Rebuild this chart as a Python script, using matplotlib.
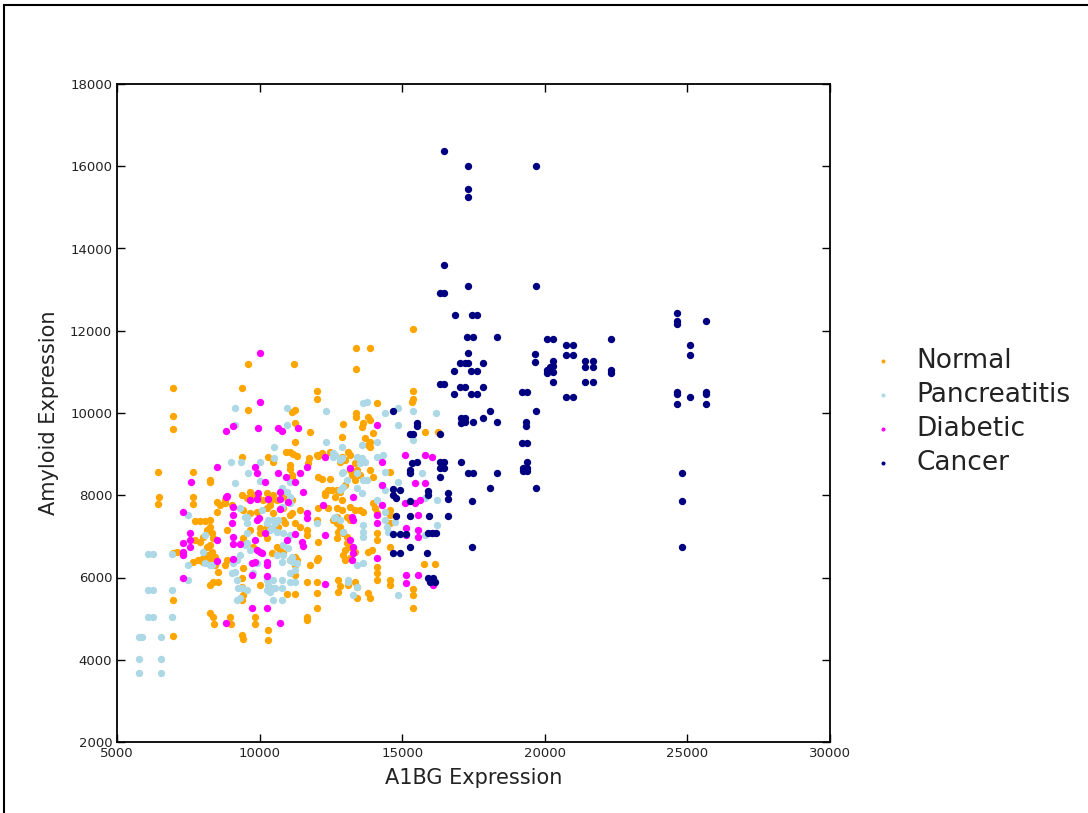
import numpy as np
import matplotlib
matplotlib.use("Agg")
import matplotlib.pyplot as plt
from matplotlib.patches import Rectangle

# ---- data (A1BG expression, Amyloid expression) ---------------------------
normal_pts = [
    (6960,10610),(6960,9930),(6960,9610),(9590,11190),(9380,10610),(9590,10070),(11210,11190),
    (13380,11580),(13380,11070),(12010,10540),(12010,10340),(11140,10030),(11240,10070),(11240,9760),
    (11770,9540),(13380,10000),(13380,9900),(12920,9730),(11240,9300),(10930,9050),(11070,9050),
    (11170,9000),(11310,8960),(11730,8910),(12010,8980),(10290,8930),(9380,8930),(6440,8570),
    (7670,8570),(8260,8370),(11070,8740),(11070,8640),(12050,8450),(12190,8400),(12470,8400),
    (12290,8060),(6470,7960),(7670,7960),(12470,9050),(12820,8810),(12990,8860),(13170,8620),
    (13240,8490),(12990,8250),(13340,8370),
    (6440,7790),(7670,7790),(7740,7380),(7910,7380),(8090,7380),(6960,6600),(6960,5450),(6960,4580),
    (8260,5820),(8260,5140),(8370,5040),(8400,4870),(8540,5890),(8960,5040),(9000,4870),(9380,4600),
    (9420,4510),(9840,5040),(9840,4870),(10290,4480),(11660,5040),(11660,4970),(12010,5260),
    (12010,5620),(12010,5890),(11240,5600),(10960,5600),(11660,5890),(12750,5940),(12820,5790),
    (12750,5650),(13100,5820),(13420,5770),
    (8260,8320),(8260,7400),(8260,7230),(8330,7080),(8510,7590),(8610,7760),(8790,7810),(8160,7160),
    (8370,6960),(8860,7160),(7740,6910),(7910,6860),(8260,6790),(8330,6620),(8440,6500),(8190,6550),
    (7670,6380),(7840,6430),(8020,6380),(8260,6430),(8440,6300),(8790,6300),(8860,6430),(8540,6130),
    (8370,5890),(7100,6620),
    (9380,8010),(9560,7930),(9660,8080),(9770,8010),(9940,7960),(10120,7890),(10260,8060),(10470,8010),
    (10610,7890),(10820,8060),(10960,7930),(11140,7890),(9420,7640),(9660,7570),(9910,7590),
    (10260,7690),(10470,7570),(10820,7690),(11140,7570),(9660,7160),(10010,7200),(10260,7230),
    (10650,7230),(9420,5580),(11240,7330),(11420,7230),(11660,7160),(11660,7030),(12050,6860),
    (12010,6430),(11770,6300),(11240,6300),(10820,6600),(11070,6430),
    (12710,7330),(12820,7230),(12920,7110),(13060,6990),(13170,6740),(13340,6620),(12920,6550),
    (13170,6480),(12990,6430),
    (8020,6990),(8160,6740),(8020,6480),(9420,6230),(9380,5990),(9380,5770),(9380,5450),(9420,6960),
    (9770,6740),(10010,7080),(10260,6960),(10610,6740),(10720,6670),(10430,6600),(11240,6500),
    (11310,6430),(12050,6480),(11240,6060),(10010,5820),(10290,4720),
    (10470,8810),(11140,8490),(11140,8420),(11700,8790),(12050,8960),(12190,9030),(12540,9030),
    (8790,7890),(8510,7840),(9030,7760),(10400,7890),(10360,7760),(12400,8130),(12290,8010),
    (12050,7690),(12400,7690),(12710,7470),(12570,7400),(12540,8130),(10820,7400),(10890,7330),
    (11070,7520),(11420,7640),(12010,7400),
    (14120,10240),(13800,9900),(13870,9830),(13630,9760),(13590,9660),(13980,9520),(12890,9420),
    (13700,9390),(13870,9300),(13800,9220),(13870,9170),(13100,9050),(13170,8980),(13340,8790),
    (13420,8620),(13520,8490),(13870,8620),(13980,8450),(14570,8570),(12710,8130),(12820,8080),
    (12640,7960),(12890,7890),(12710,7690),(12890,7640),(13170,7720),(13340,7640),(13060,7470),
    (13170,7400),(13520,7640),(13630,7590),(13980,7810),(14050,7690),(14120,7570),(14570,7640),
    (14570,7520),(14570,7330),(12750,7110),(12920,7080),(12710,6960),(13060,6840),(12990,6670),
    (13800,6620),(13940,6670),(14120,7080),(14120,6910),(14570,6740),(14120,6260),(14120,6110),
    (14120,5940),(13340,5890),(14570,5940),(14570,5820),(13800,5620),(15380,5720),(15380,5580),
    (15760,6330),(16150,6330),(15340,10270),(15800,9540),(16250,9540),
    (15380,12040),(13870,11580),(15380,10540),(15380,10340),(15380,5260),(13420,5500),(13870,5500),
    (12890,8930),
]

pancreatitis_pts = [
    (9140,10120),(9140,9710),(10960,10120),(10960,9710),(12330,10050),(12330,9300),(10500,9170),
    (10500,8910),(9000,8810),(9350,8810),(10010,8810),(9590,8540),(9140,8300),(10010,8350),
    (12890,9170),(12890,8910),(13420,8930),(12570,8930),(12890,8540),(11070,8320),(13420,8540),
    (6090,6570),(6260,6570),(6930,6570),(6090,5700),(6260,5700),(6930,5700),(6090,5040),(6260,5040),
    (6930,5040),(5770,4550),(5880,4550),(6540,4550),(5770,4020),(6540,4020),(5770,3680),(6540,3680),
    (7490,7520),(7490,6300),(7490,5940),(8020,6620),(8260,6300),(9560,7470),(9560,7330),(9560,7080),
    (9560,6840),(9660,6670),(9210,6430),(9140,6130),(9210,5940),(9380,5750),(9240,5750),(9210,5450),
    (9770,6110),(9910,6350),(10290,7400),(10470,7400),(10650,7400),(10360,7160),(10610,7110),
    (10820,7080),(11070,7030),(10820,6790),(11000,6720),(10610,6550),(10790,6380),(11140,6500),
    (10260,5940),(10470,5940),(10790,5940),(10260,5700),(10470,5750),(10470,5450),(10790,5450),
    (11070,6110),(11240,6180),(12010,7330),(12610,7450),(13100,5940),(13420,5770),(13420,6300),
    (12820,8130),(12920,8200),
    (10540,7330),(8090,7030),(10430,7200),(8090,6350),(8330,6300),(9070,6350),(9030,6110),(9560,5700),
    (10820,6550),(11070,6430),(11170,6380),(11310,6350),(10540,5750),(10790,5750),(10360,5650),
    (11070,5890),(11240,5890),(10290,5820),(9310,5500),(9490,6790),(9310,6550),
    (10790,8180),(10960,8080),(11070,7960),(11070,7810),(10790,7720),(10260,7330),(10080,7640),
    (9490,7470),(9310,7690),(12570,9030),
    (13630,10240),(14400,10000),(14850,10120),(14850,9710),(16180,10000),(14120,9300),(13590,9220),
    (12640,8980),(12820,8860),(13590,8910),(13700,8810),(13520,8790),(14120,8930),(14400,8570),
    (15690,8540),(12920,8570),(13060,8370),(12890,8180),(13630,8370),(13770,8370),(13420,8180),
    (13590,8060),(14850,8320),(14290,8250),(14400,8130),(14120,7890),(14400,7590),(14400,7400),
    (14470,7230),(13630,7280),(13630,7110),(13630,6990),(12640,7470),(12820,7400),(12920,7110),
    (15800,7930),(16220,7890),(16220,7280),(15800,7030),(14750,7350),(13630,6350),(13100,5890),
    (13270,5580),(14850,5580),(14500,7110),(15380,9350),(13770,10270),(15380,10050),(14330,8980),
]

diabetic_pts = [
    (10010,11460),(10010,10270),(8820,9560),(9070,9690),(9940,9640),(10650,9640),(10790,9560),
    (11350,9640),(12290,8930),(8510,8690),(7590,8320),(10190,8320),(11660,8690),(13170,8660),
    (11520,8080),
    (9840,8690),(9910,8540),(10650,8540),(10930,8450),(11240,8320),(11420,8540),(8860,7980),
    (9940,8060),(9910,7910),(9660,7890),(10290,7910),(10720,8080),(10720,7910),(11000,7840),
    (9070,7720),(9070,7520),(9980,7450),(10720,7670),(12220,7760),(11660,7570),(11660,7450),
    (9910,7400),
    (9030,7330),(9070,6990),(9070,6820),(9310,6820),(8510,6910),(9840,6910),(9910,6670),(10080,6600),
    (10190,7080),(10960,6910),(11240,7060),(11490,6860),(11520,6770),(12290,7030),(8510,6400),
    (9070,6450),(9730,6350),(9840,6380),(10260,6380),(10260,6300),(9730,6060),(10260,6040),
    (12290,5840),(9730,5260),(10260,5260),(8820,4890),(10720,4890),(10010,6620),
    (14120,9710),(14290,8810),(15100,8980),(15800,8980),(14290,8250),(13270,7960),(14290,7760),
    (15100,7810),(15450,7810),(15620,7890),(15450,8300),(13240,7470),(13270,7400),(14120,7520),
    (14120,7330),(15550,7520),(15130,7200),(15130,7030),(15550,7160),(15550,6990),(13170,6910),
    (13270,6740),(13270,6600),(13240,6430),(14120,6480),(15130,6060),(15550,6060),(15130,5870),
    (16080,7080),(16040,8930),(15800,8300),(16080,5820),
    (7310,7590),(7560,7080),(7560,6910),(7560,6740),(7310,6840),(7310,6620),(7310,6550),(7310,5990),
    (8820,7960),
]

cancer_pts = [
    (16460,16370),(17310,16010),(19690,16010),(17310,15450),(17310,15250),(16460,13600),(17310,13090),
    (19690,13090),(16320,12920),(16460,12920),(16850,12380),(17450,12380),(17620,12380),
    (17270,11850),(17480,11850),(18320,11850),(17310,11460),(17030,11220),(17200,11220),(17310,11220),
    (17830,11220),(16820,11020),(17410,11020),(17620,11020),(16320,10710),(16460,10710),(17030,10630),
    (17200,10630),(17830,10630),(16820,10460),(17410,10460),(17620,10460),(14680,10050),(18080,10050),
    (17830,9880),(17060,9880),(17200,9880),(17060,9760),(17200,9780),(17480,9780),(18320,9780),
    (15520,9760),(15520,9690),(15270,9490),(15380,9490),(16320,9490),(15340,8790),(15520,8810),
    (16320,8810),(16460,8810),(17060,8810),(15270,8620),(15270,8540),(16320,8660),(16460,8660),
    (17310,8540),(17480,8540),(18320,8540),(16320,8450),(18080,8180),(19690,8180),
    (19200,10510),(19380,10510),(19690,10050),(19340,9780),(19340,9690),(19200,9270),(19380,9270),
    (19380,8810),(19230,8660),(19380,8660),(19230,8590),(19380,8590),
    (19660,11440),(19660,11240),(20080,11800),(20290,11800),(20740,11660),(20990,11660),(20740,11410),
    (20990,11410),(20290,11270),(20080,11050),(20180,11120),(20290,11000),(20080,10970),(20290,11140),
    (20290,10760),(20740,10390),(20990,10390),(21410,11270),(21690,11270),(21410,11120),(21690,11120),
    (21410,10760),(21690,10760),(22320,11800),(22320,11050),(22320,10970),
    (24630,12430),(24630,12240),(24630,12170),(25650,12240),(25090,11660),(25090,11410),(24630,10510),
    (24630,10460),(25090,10390),(25650,10510),(25650,10460),(24630,10220),(25650,10220),(24810,8540),
    (24810,7860),(24810,6740),
    (14680,8150),(14920,8130),(14680,8010),(15900,8100),(15900,8010),(16600,8060),(16600,7910),
    (17450,7860),(15270,7860),(14780,7930),(14780,7500),(15940,7500),(16600,7500),(15270,7500),
    (14680,7060),(14920,7060),(15130,7060),(15900,7080),(16040,7080),(16180,7080),(15270,6740),
    (17450,6740),(14680,6600),(14920,6600),(15870,6600),(15900,5990),(16080,5990),(15970,5890),
    (16150,5890),
]

groups = ["Normal", "Pancreatitis", "Diabetic", "Cancer"]
colors = ["orange", "lightblue", "magenta", "navy"]
series = [normal_pts, pancreatitis_pts, diabetic_pts, cancer_pts]

x_ticks = [5000, 10000, 15000, 20000, 25000, 30000]
y_ticks = [2000, 4000, 6000, 8000, 10000, 12000, 14000, 16000, 18000]

# ---- figure ---------------------------------------------------------------
fig = plt.figure(figsize=(10.88, 8.13), dpi=100)
ax = fig.add_axes([117/1088, 1 - 742/813, (830 - 117)/1088, (742 - 84)/813])

for name, col, pts in zip(groups, colors, series):
    arr = np.array(pts, dtype=float)
    ax.scatter(arr[:, 0], arr[:, 1], s=28, color=col, linewidths=0, label=name)

ax.set_xlim(5000, 30000)
ax.set_ylim(2000, 18000)
ax.set_xticks(x_ticks)
ax.set_yticks(y_ticks)
ax.tick_params(direction="in", top=True, right=True, length=6, width=1,
               labelsize=9.5, labelcolor="#222222")
for sp in ax.spines.values():
    sp.set_linewidth(1.3)
ax.set_xlabel("A1BG Expression", fontsize=15, labelpad=6, color="#222222")
ax.set_ylabel("Amyloid Expression", fontsize=15, labelpad=8, color="#222222")

leg = ax.legend(loc="center left", bbox_to_anchor=(0.778, 1 - 412/813),
                bbox_transform=fig.transFigure, frameon=False, fontsize=19,
                scatterpoints=1, markerscale=0.55, handlelength=1.0,
                handletextpad=0.75, labelspacing=0.3)
for t in leg.get_texts():
    t.set_color("#222222")

# outer frame of the original image (left and top edges visible)
fig.patches.append(Rectangle((4/1088, -0.5), 2.0, 0.5 + 1 - 5/813,
                             transform=fig.transFigure, fill=False,
                             edgecolor="black", linewidth=1.5, zorder=10))

fig.savefig("out.png", dpi=100)
